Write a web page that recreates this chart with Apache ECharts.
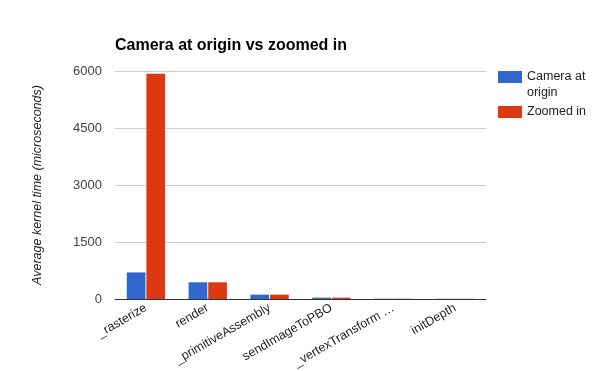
<!DOCTYPE html>
<html>
<head>
<meta charset="utf-8">
<script src="https://cdn.jsdelivr.net/npm/echarts@6/dist/echarts.min.js"></script>
<style>html,body{margin:0;padding:0;background:#fff}#c{width:600px;height:371px}</style>
</head>
<body>
<div id="c"></div>
<script>
const categories = ['_rasterize', 'render', '_primitiveAssembly', 'sendImageToPBO', '_vertexTransformAndAssembly', 'initDepth'];
const cameraAtOrigin = [700, 440, 115, 35, 8, 6];
const zoomedIn = [5930, 440, 115, 35, 8, 6];
const yTicks = [0, 1500, 3000, 4500, 6000];

const chart = echarts.init(document.getElementById('c'), null, {renderer: 'canvas'});
chart.setOption({
  animation: false,
  title: {
    text: 'Camera at origin vs zoomed in',
    left: 110, top: 33,
    textStyle: {fontFamily: 'Liberation Sans, Arial', fontSize: 16, fontWeight: 'bold', color: '#000'}
  },
  legend: {
    orient: 'vertical', left: 493, top: 48,
    itemWidth: 24, itemHeight: 12, itemGap: 3,
    icon: 'rect',
    textStyle: {fontFamily: 'Liberation Sans, Arial', fontSize: 12.5, color: '#222', lineHeight: 16},
    data: ['Camera at origin', 'Zoomed in'],
    formatter: function (n) { return n === 'Camera at origin' ? '\nCamera at\norigin' : n; }
  },
  grid: {left: 115, right: 114, top: 71, bottom: 72, containLabel: false},
  xAxis: {
    type: 'category', data: categories,
    axisLine: {lineStyle: {color: '#333'}},
    axisTick: {show: false},
    axisLabel: {
      rotate: 30, interval: 0, margin: 8,
      fontFamily: 'Liberation Sans, Arial', fontSize: 12.5, color: '#222',
      formatter: function (v) { return v.length > 20 ? v.slice(0, 16) + ' …' : v; }
    }
  },
  yAxis: {
    type: 'value', min: yTicks[0], max: yTicks[yTicks.length - 1], interval: 1500,
    name: 'Average kernel time (microseconds)', nameLocation: 'middle', nameGap: 71,
    nameTextStyle: {fontFamily: 'Liberation Sans, Arial', fontSize: 12.5, fontStyle: 'italic', color: '#222'},
    axisLine: {show: false}, axisTick: {show: false},
    axisLabel: {margin: 13, fontFamily: 'Liberation Sans, Arial', fontSize: 13, color: '#444',
      formatter: function (v) { return String(v); }},
    splitLine: {lineStyle: {color: '#ccc'}}
  },
  series: [
    {name: 'Camera at origin', type: 'bar', data: cameraAtOrigin, itemStyle: {color: '#3366cc'}, barGap: '5%', barCategoryGap: '38%'},
    {name: 'Zoomed in', type: 'bar', data: zoomedIn, itemStyle: {color: '#dc3912'}}
  ]
});
</script>
</body>
</html>
